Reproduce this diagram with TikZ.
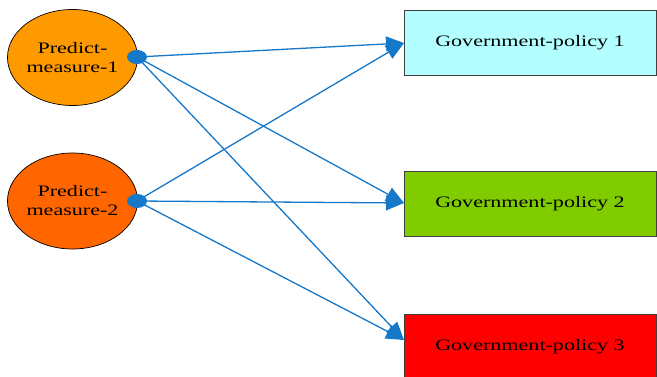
\documentclass[tikz,border=0pt]{standalone}
\usepackage{fontspec}
\setmainfont{Liberation Serif}
\usetikzlibrary{shapes.geometric,arrows.meta}
\definecolor{lineblue}{RGB}{22,120,200}
\definecolor{orangeA}{RGB}{255,153,0}
\definecolor{orangeB}{RGB}{255,102,0}
\definecolor{cyanA}{RGB}{179,255,255}
\definecolor{greenA}{RGB}{128,204,0}
\definecolor{redA}{RGB}{255,0,0}
\newcommand{\wide}[1]{\scalebox{1.38}[1]{#1}}
\tikzset{
  measure/.style={ellipse, draw=black, line width=0.7pt, minimum width=129pt, minimum height=96pt, inner sep=0pt, align=center, font=\fontsize{16}{19}\selectfont},
  policy/.style={rectangle, draw=black!75, line width=0.8pt, minimum width=252pt, minimum height=65pt, inner sep=0pt, font=\fontsize{16}{19}\selectfont},
  dotnode/.style={ellipse, fill=lineblue, minimum width=20pt, minimum height=14pt, inner sep=0pt},
  conn/.style={draw=lineblue, line width=1.3pt, -{Triangle[length=18pt,width=15pt]}}
}
\begin{document}
\begin{tikzpicture}[x=1pt,y=-1pt]
\useasboundingbox (0,0) rectangle (657,377);
\node[measure, fill=orangeA] (m1) at (72.5,57.5) {\wide{Predict-}\\\wide{measure-1}};
\node[measure, fill=orangeB] (m2) at (72.5,201) {\wide{Predict-}\\\wide{measure-2}};
\node[policy, fill=cyanA] (g1) at (530,42.5) {\wide{Government-policy 1}};
\node[policy, fill=greenA] (g2) at (530,203.5) {\wide{Government-policy 2}};
\node[policy, fill=redA, minimum height=66pt] (g3) at (530,347) {\wide{Government-policy 3}};
\coordinate (t1) at (404,43);
\coordinate (t2) at (404,203);
\coordinate (t3) at (404,340);
\coordinate (c1) at (137,57);
\coordinate (c2) at (137,201);
\draw[conn] (c1) -- (t1);
\draw[conn] (c1) -- (t2);
\draw[conn] (c1) -- (t3);
\draw[conn] (c2) -- (t1);
\draw[conn] (c2) -- (t2);
\draw[conn] (c2) -- (t3);
\node[dotnode] (d1) at (c1) {};
\node[dotnode] (d2) at (c2) {};
\end{tikzpicture}
\end{document}
